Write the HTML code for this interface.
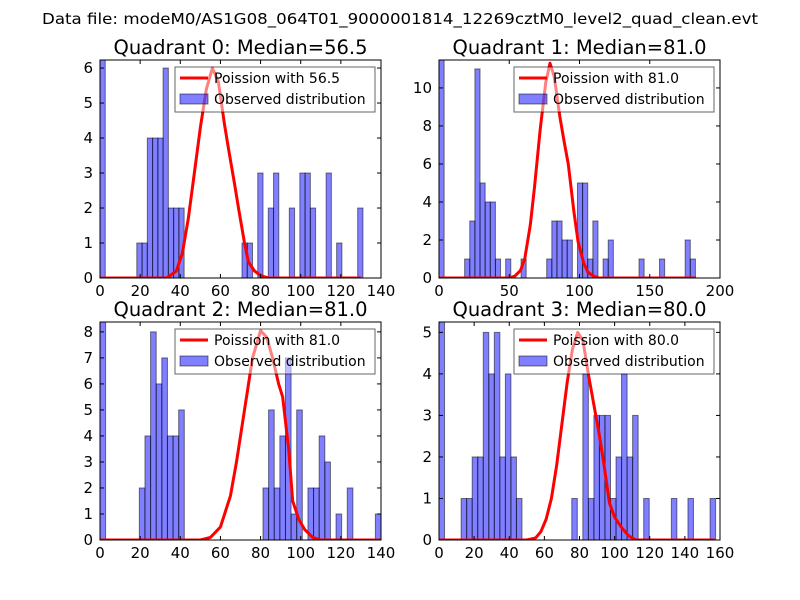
<!DOCTYPE html>
<html><head><meta charset="utf-8"><style>
html,body{margin:0;padding:0;background:#fff;}
svg{display:block;font-family:"DejaVu Sans","Liberation Sans",sans-serif;}
</style></head><body>
<svg id="fig" width="800" height="600" viewBox="0 0 800 600" xmlns="http://www.w3.org/2000/svg">
<rect x="0" y="0" width="800" height="600" fill="#fff"/>
<text x="400" y="24" text-anchor="middle" font-size="15" textLength="716" lengthAdjust="spacingAndGlyphs">Data file: modeM0/AS1G08_064T01_9000001814_12269cztM0_level2_quad_clean.evt</text>
</svg>
<script>
// ---- data ----
const titles = ["Quadrant 0: Median=56.5","Quadrant 1: Median=81.0","Quadrant 2: Median=81.0","Quadrant 3: Median=80.0"];
const legendLabels = ["Poission with 56.5","Poission with 81.0","Poission with 81.0","Poission with 80.0"];
const binWidths = [2.62, 3.65, 2.8, 3.15];
const q0Bins = [0,7,8,9,10,11,12,13,14,15,27,28,30,32,33,36,38,39,40,43,45,49];
const q0Counts = [40,1,1,4,4,4,6,2,2,2,1,1,3,2,3,2,3,3,2,3,1,2];
const q1Bins = [0,5,6,7,8,9,10,11,13,16,21,22,23,24,25,27,28,29,30,32,33,39,43,48,49];
const q1Counts = [60,1,3,11,5,4,4,1,1,1,1,3,3,2,2,5,5,1,3,1,2,1,1,2,1];
const q2Bins = [0,7,8,9,10,11,12,13,14,29,30,31,32,33,34,35,37,38,39,40,42,44,49];
const q2Counts = [40,2,4,8,6,7,4,4,5,2,5,2,4,7,1,5,2,2,4,3,1,2,1];
const q3Bins = [0,4,5,6,7,8,9,10,11,12,13,14,24,26,27,28,29,30,31,32,33,34,35,37,42,45,49];
const q3Counts = [40,1,1,2,2,5,4,5,2,4,2,1,1,4,1,3,3,3,1,2,4,2,3,1,1,1,1];
const q0CurveX = [0,33,35,38,41,44,47,50,53,56,59,62,64,67,69,72,74,77,80,84,130];
const q0CurveY = [0,0,0.07,0.2,0.7,1.7,3.0,4.3,5.4,6.0,5.6,4.4,3.7,2.7,2.0,1.0,0.45,0.2,0.07,0,0];
const q1CurveX = [0,50,54,58,61,65,68,72,76,79,82,86,89,92,96,99,103,106,110,114,183];
const q1CurveY = [0,0,0.1,0.4,1.0,2.8,4.8,7.8,10.3,11.3,10.6,8.5,7.2,6.0,3.5,1.9,0.8,0.3,0.1,0,0];
const q2CurveX = [0,50,55,60,65,68,72,76,80,83,86,89,91,94,96,99,102,106,110,140];
const q2CurveY = [0,0,0.1,0.5,1.7,3.0,5.0,7.0,8.05,7.8,7.0,6.0,5.5,3.5,1.5,0.8,0.4,0.1,0,0];
const q3CurveX = [0,50,55,58,61,64,67,70,73,76,79,82,85,88,91,94,97,100,104,108,112,157];
const q3CurveY = [0,0,0.05,0.2,0.5,1.0,1.8,2.8,3.8,4.6,5.0,4.8,4.0,3.3,2.6,1.8,0.9,0.55,0.3,0.1,0,0];
const xMaxes = [140,200,140,160];
const yMaxes = [6.23,11.47,8.38,5.25];
const xTicks = [[0,20,40,60,80,100,120,140],[0,50,100,150,200],[0,20,40,60,80,100,120,140],[0,20,40,60,80,100,120,140,160]];
const yTicks = [[0,1,2,3,4,5,6],[0,2,4,6,8,10],[0,1,2,3,4,5,6,7,8],[0,1,2,3,4,5]];

const binsAll = [q0Bins,q1Bins,q2Bins,q3Bins];
const countsAll = [q0Counts,q1Counts,q2Counts,q3Counts];
const curveXAll = [q0CurveX,q1CurveX,q2CurveX,q3CurveX];
const curveYAll = [q0CurveY,q1CurveY,q2CurveY,q3CurveY];

const NS = "http://www.w3.org/2000/svg";
const fig = document.getElementById('fig');
const boxes = [[100,60],[439,60],[100,322],[439,322]];
const W = 281, H = 218;
function mk(tag, attrs, parent){
  const e = document.createElementNS(NS, tag);
  for (const k in attrs) e.setAttribute(k, attrs[k]);
  parent.appendChild(e); return e;
}
for (let q=0;q<4;q++){
  const [L,T] = boxes[q];
  const xs = v => L + v / xMaxes[q] * W;
  const ys = v => T + H - v / yMaxes[q] * H;
  const g = mk('g', {}, fig);
  
  
  const clip = mk('clipPath', {id:'clip'+q}, g);
  mk('rect', {x:L,y:T,width:W,height:H}, clip);
  const plot = mk('g', {'clip-path':'url(#clip'+q+')'}, g);
  binsAll[q].forEach((b,i)=>{
    const x0 = xs(b*binWidths[q]), x1 = xs((b+1)*binWidths[q]);
    const y = ys(countsAll[q][i]);
    const r = mk('rect', {x:x0, y:y, width:x1-x0, height:ys(0)-y, fill:'rgba(0,0,255,0.5)', stroke:'rgba(0,0,0,0.5)', 'stroke-width':1}, plot);
    
    
  });
  const pts = curveXAll[q].map((x,i)=> xs(x).toFixed(2)+','+ys(curveYAll[q][i]).toFixed(2)).join(' ');
  const pl = mk('polyline', {points:pts, fill:'none', stroke:'#ff0000', 'stroke-width':3, 'stroke-linejoin':'round'}, plot);
  
  
  mk('rect', {x:L,y:T,width:W,height:H,fill:'none',stroke:'#000','stroke-width':1}, g);
  xTicks[q].forEach(v=>{
    const x = xs(v);
    mk('line',{x1:x,x2:x,y1:T+H,y2:T+H-4,stroke:'#000'},g);
    mk('line',{x1:x,x2:x,y1:T,y2:T+4,stroke:'#000'},g);
    const t = mk('text',{x:x,y:T+H+18,'text-anchor':'middle','font-size':15},g);
    t.textContent = v;
    
    
  });
  yTicks[q].forEach(v=>{
    const y = ys(v);
    mk('line',{x1:L,x2:L+4,y1:y,y2:y,stroke:'#000'},g);
    mk('line',{x1:L+W,x2:L+W-4,y1:y,y2:y,stroke:'#000'},g);
    const t = mk('text',{x:L-7,y:y+5,'text-anchor':'end','font-size':15},g);
    t.textContent = v;
    
    
  });
  const tt = mk('text',{x:L+W/2,y:T-6,'text-anchor':'middle','font-size':19.5},g);
  tt.textContent = titles[q];
  
  
  const lg = mk('g',{},g);
  
  
  const lx = L+W-206, ly = T+7;
  mk('rect',{x:lx,y:ly,width:200,height:45,fill:'#fff','fill-opacity':0.5,stroke:'#000','stroke-width':1,'stroke-opacity':0.6},lg);
  mk('line',{x1:lx+5,x2:lx+33,y1:ly+11,y2:ly+11,stroke:'#ff0000','stroke-width':3},lg);
  mk('rect',{x:lx+5,y:ly+27,width:28,height:10,fill:'rgba(0,0,255,0.5)',stroke:'rgba(0,0,0,0.5)'},lg);
  const t1 = mk('text',{x:lx+39,y:ly+16,'font-size':14},lg);
  t1.textContent = legendLabels[q];
  
  
  const t2 = mk('text',{x:lx+39,y:ly+37,'font-size':14},lg);
  t2.textContent = 'Observed distribution';
  
  
}
</script>
</body></html>
